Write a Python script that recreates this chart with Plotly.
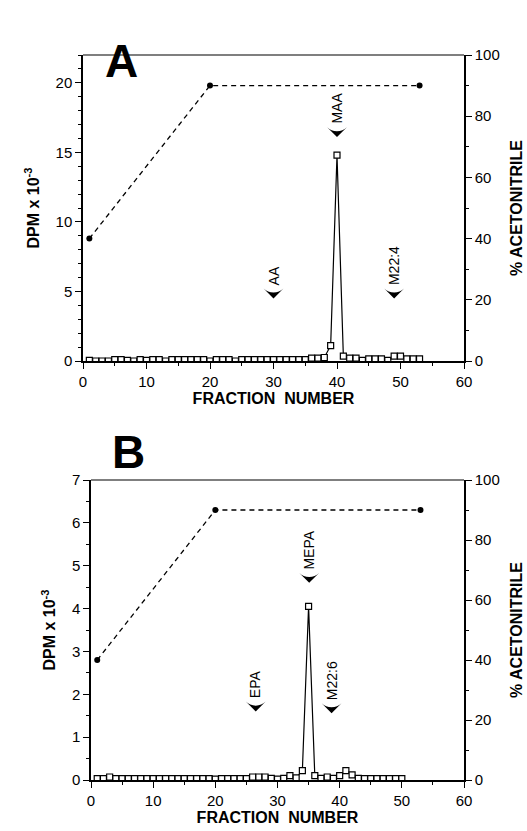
import plotly.graph_objects as go

# ---- data ----
frac_a = list(range(1, 54))
dpm_a = [0.05, 0.0, 0.0, 0.0, 0.1, 0.1, 0.05, 0.0, 0.1, 0.05,
         0.1, 0.1, 0.0, 0.1, 0.1, 0.1, 0.1, 0.1, 0.1, 0.0,
         0.1, 0.1, 0.1, 0.0, 0.1, 0.1, 0.1, 0.1, 0.1, 0.1,
         0.1, 0.1, 0.1, 0.1, 0.1, 0.2, 0.2, 0.25, 1.1, 14.8,
         0.35, 0.2, 0.2, 0.05, 0.15, 0.15, 0.15, 0.05, 0.35, 0.35,
         0.15, 0.15, 0.15]
grad_x_a = [1, 20, 53]
grad_y_a = [40, 90, 90]

frac_b = list(range(1, 51))
dpm_b = [0.03, 0.03, 0.07, 0.03, 0.03, 0.03, 0.03, 0.03, 0.03, 0.03,
         0.03, 0.03, 0.03, 0.03, 0.03, 0.03, 0.03, 0.03, 0.03, 0.02,
         0.03, 0.03, 0.03, 0.03, 0.03, 0.07, 0.07, 0.07, 0.04, 0.02,
         0.04, 0.1, 0.05, 0.22, 4.05, 0.1, 0.04, 0.07, 0.04, 0.1,
         0.22, 0.12, 0.04, 0.03, 0.03, 0.03, 0.03, 0.03, 0.03, 0.03]
grad_x_b = [1, 20, 53]
grad_y_b = [40, 90, 90]

label_text_a = ["AA", "MAA", "M22:4"]
label_x_a = [30, 40, 49]
label_y_a = [4.5, 16.1, 4.5]
label_text_b = ["EPA", "MEPA", "M22:6"]
label_x_b = [26.5, 35.1, 38.7]
label_y_b = [1.6, 4.6, 1.56]

FONT = "Liberation Sans, Arial, sans-serif"

fig = go.Figure()

def add_panel(fx, fy, gx, gy, lx, ly, xa, ya, ya2):
    fig.add_trace(go.Scatter(x=gx, y=gy, mode="lines+markers", xaxis=xa, yaxis=ya2,
                             line=dict(color="black", width=1.3, dash="5px,4px"),
                             marker=dict(color="black", size=6), showlegend=False))
    fig.add_trace(go.Scatter(x=fx, y=fy, mode="lines+markers", xaxis=xa, yaxis=ya,
                             line=dict(color="black", width=1.2),
                             marker=dict(symbol="square", color="white", size=6,
                                         line=dict(width=1.2, color="black")),
                             showlegend=False))
    # chevron markers for the peak labels
    fig.add_trace(go.Scatter(x=lx, y=ly, mode="markers", xaxis=xa, yaxis=ya,
                             marker=dict(symbol="arrow-wide", angle=180, size=14,
                                         color="black", line=dict(width=0)),
                             showlegend=False, hoverinfo="skip"))

add_panel(frac_a, dpm_a, grad_x_a, grad_y_a, label_x_a, label_y_a, "x", "y", "y2")
add_panel(frac_b, dpm_b, grad_x_b, grad_y_b, label_x_b, label_y_b, "x3", "y3", "y4")

tickfont = dict(family=FONT, size=15, color="black")
titlefont = dict(family=FONT, size=16, color="black", weight="bold")

def xaxis_def(domain, anchor):
    return dict(domain=domain, anchor=anchor, range=[0, 60], dtick=10, tick0=0,
                ticks="outside", ticklen=6, tickwidth=1.3, tickcolor="black",
                minor=dict(dtick=5, ticks="outside", ticklen=3, tickcolor="black"),
                showline=True, linecolor="black", linewidth=1.5, mirror=False,
                showgrid=False, zeroline=False, tickfont=tickfont, automargin=False,
                title=dict(text="FRACTION  NUMBER", font=titlefont, standoff=4))

def yaxis_def(domain, anchor, rng, dtick, minor):
    return dict(domain=domain, anchor=anchor, range=rng, dtick=dtick, tick0=0,
                ticks="outside", ticklen=6, tickwidth=1.3, tickcolor="black",
                minor=dict(dtick=minor, ticks="outside", ticklen=3, tickcolor="black"),
                showline=True, linecolor="black", linewidth=1.5, automargin=False,
                showgrid=False, zeroline=False, tickfont=tickfont,
                title=dict(text="DPM x 10<sup>-3</sup>", font=titlefont, standoff=12))

def yaxis2_def(overlay, anchor):
    return dict(overlaying=overlay, anchor=anchor, side="right", range=[0, 100],
                dtick=20, tick0=0, ticks="outside", ticklen=6, tickwidth=1.3,
                tickcolor="black", automargin=False,
                minor=dict(dtick=10, ticks="outside", ticklen=3, tickcolor="black"),
                showline=True, linecolor="black", linewidth=1.5,
                showgrid=False, zeroline=False, tickfont=tickfont,
                title=dict(text="% ACETONITRILE", font=titlefont, standoff=12))

dxA = [83 / 527, 464 / 527]
dyA = [1 - 361 / 831, 1 - 55 / 831]
dxB = [91 / 527, 464 / 527]
dyB = [1 - 780 / 831, 1 - 480 / 831]

fig.update_layout(
    width=527, height=831,
    margin=dict(l=0, r=0, t=0, b=0, autoexpand=False),
    paper_bgcolor="white", plot_bgcolor="white",
    font=dict(family=FONT, color="black"),
    xaxis=xaxis_def(dxA, "y"),
    yaxis=yaxis_def(dyA, "x", [0, 22], 5, 1),
    yaxis2=yaxis2_def("y", "x"),
    xaxis3=xaxis_def(dxB, "y3"),
    yaxis3=yaxis_def(dyB, "x3", [0, 7], 1, 0.5),
    yaxis4=yaxis2_def("y3", "x3"),
)

# top frame lines
for dx, dy in [(dxA, dyA), (dxB, dyB)]:
    fig.add_shape(type="line", xref="paper", yref="paper", x0=dx[0], x1=dx[1],
                  y0=dy[1], y1=dy[1], line=dict(color="black", width=1.2))

# peak label texts
def add_labels(texts, xs, ys, xa, ya):
    for txt, x, y in zip(texts, xs, ys):
        fig.add_annotation(x=x, y=y, xref=xa, yref=ya, text=txt, showarrow=False,
                           textangle=-90, yshift=11,
                           font=dict(family=FONT, size=14, color="black"),
                           xanchor="center", yanchor="bottom")

add_labels(label_text_a, label_x_a, label_y_a, "x", "y")
add_labels(label_text_b, label_x_b, label_y_b, "x3", "y3")

# panel letters
fig.add_annotation(x=103 / 527, y=1 - 33 / 831, xref="paper", yref="paper", text="A",
                   showarrow=False, font=dict(family=FONT, size=46, color="black",
                                              weight="bold"))
fig.add_annotation(x=110 / 527, y=1 - 452 / 831, xref="paper", yref="paper", text="B",
                   showarrow=False, font=dict(family=FONT, size=46, color="black",
                                              weight="bold"))

fig.write_html("out.html", config={"displayModeBar": False},
               post_script="document.body.style.margin='0';document.body.style.overflow='hidden';")
